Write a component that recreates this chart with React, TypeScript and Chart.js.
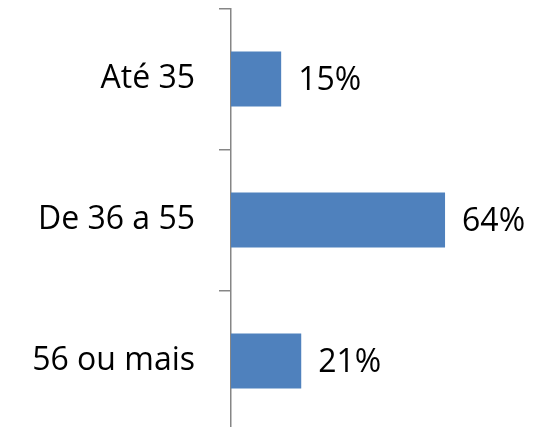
import React, { useEffect, useRef } from "react";
import { Chart, registerables } from "chart.js";

Chart.register(...registerables);

const categories = ["Até 35", "De 36 a 55", "56 ou mais"];
const values = [15, 64, 21];
const valueLabels = ["15%", "64%", "21%"];

const FONT = "'Open Sans', 'Noto Sans', sans-serif";

const valueLabelPlugin = {
  id: "valueLabels",
  afterDatasetsDraw(chart: any) {
    const ctx = chart.ctx;
    const meta = chart.getDatasetMeta(0);
    ctx.save();
    ctx.font = `32px ${FONT}`;
    ctx.fillStyle = "#000000";
    ctx.textAlign = "left";
    ctx.textBaseline = "middle";
    meta.data.forEach((bar: any, i: number) => {
      ctx.fillText(valueLabels[i], bar.x + 17, bar.y + 2);
    });
    ctx.restore();
  },
};

export default function App() {
  const ref = useRef<HTMLCanvasElement | null>(null);
  useEffect(() => {
    if (!ref.current) return;
    const chart = new Chart(ref.current, {
      type: "bar",
      data: {
        labels: categories,
        datasets: [
          {
            data: values,
            backgroundColor: "#4F81BD",
            borderWidth: 0,
            categoryPercentage: 1,
            barPercentage: 0.39,
          },
        ],
      },
      options: {
        indexAxis: "y",
        animation: false,
        responsive: false,
        maintainAspectRatio: false,
        layout: { padding: { top: 8.5, bottom: 8.5, right: 20, left: 0 } },
        plugins: {
          legend: { display: false },
          tooltip: { enabled: false },
        },
        scales: {
          x: {
            display: false,
            min: 0,
            max: 90,
          },
          y: {
            afterFit: (scale: any) => {
              scale.width = 231;
              scale.paddingTop = 0;
              scale.paddingBottom = 0;
            },
            border: { display: true, color: "#868686", width: 1.5 },
            grid: {
              display: true,
              drawOnChartArea: false,
              drawTicks: true,
              tickLength: 12,
              offset: true,
              color: "#868686",
              lineWidth: 1.5,
            },
            ticks: {
              color: "#000000",
              padding: 24,
              font: { size: 32, family: FONT },
            },
          },
        },
      },
      plugins: [valueLabelPlugin],
    });
    return () => chart.destroy();
  }, []);
  return (
    <div
      style={{
        position: "fixed",
        left: 0,
        top: 0,
        width: 552,
        height: 427,
        overflow: "hidden",
        background: "#ffffff",
      }}
    >
      <canvas ref={ref} width={552} height={440} style={{ display: "block" }} />
    </div>
  );
}
